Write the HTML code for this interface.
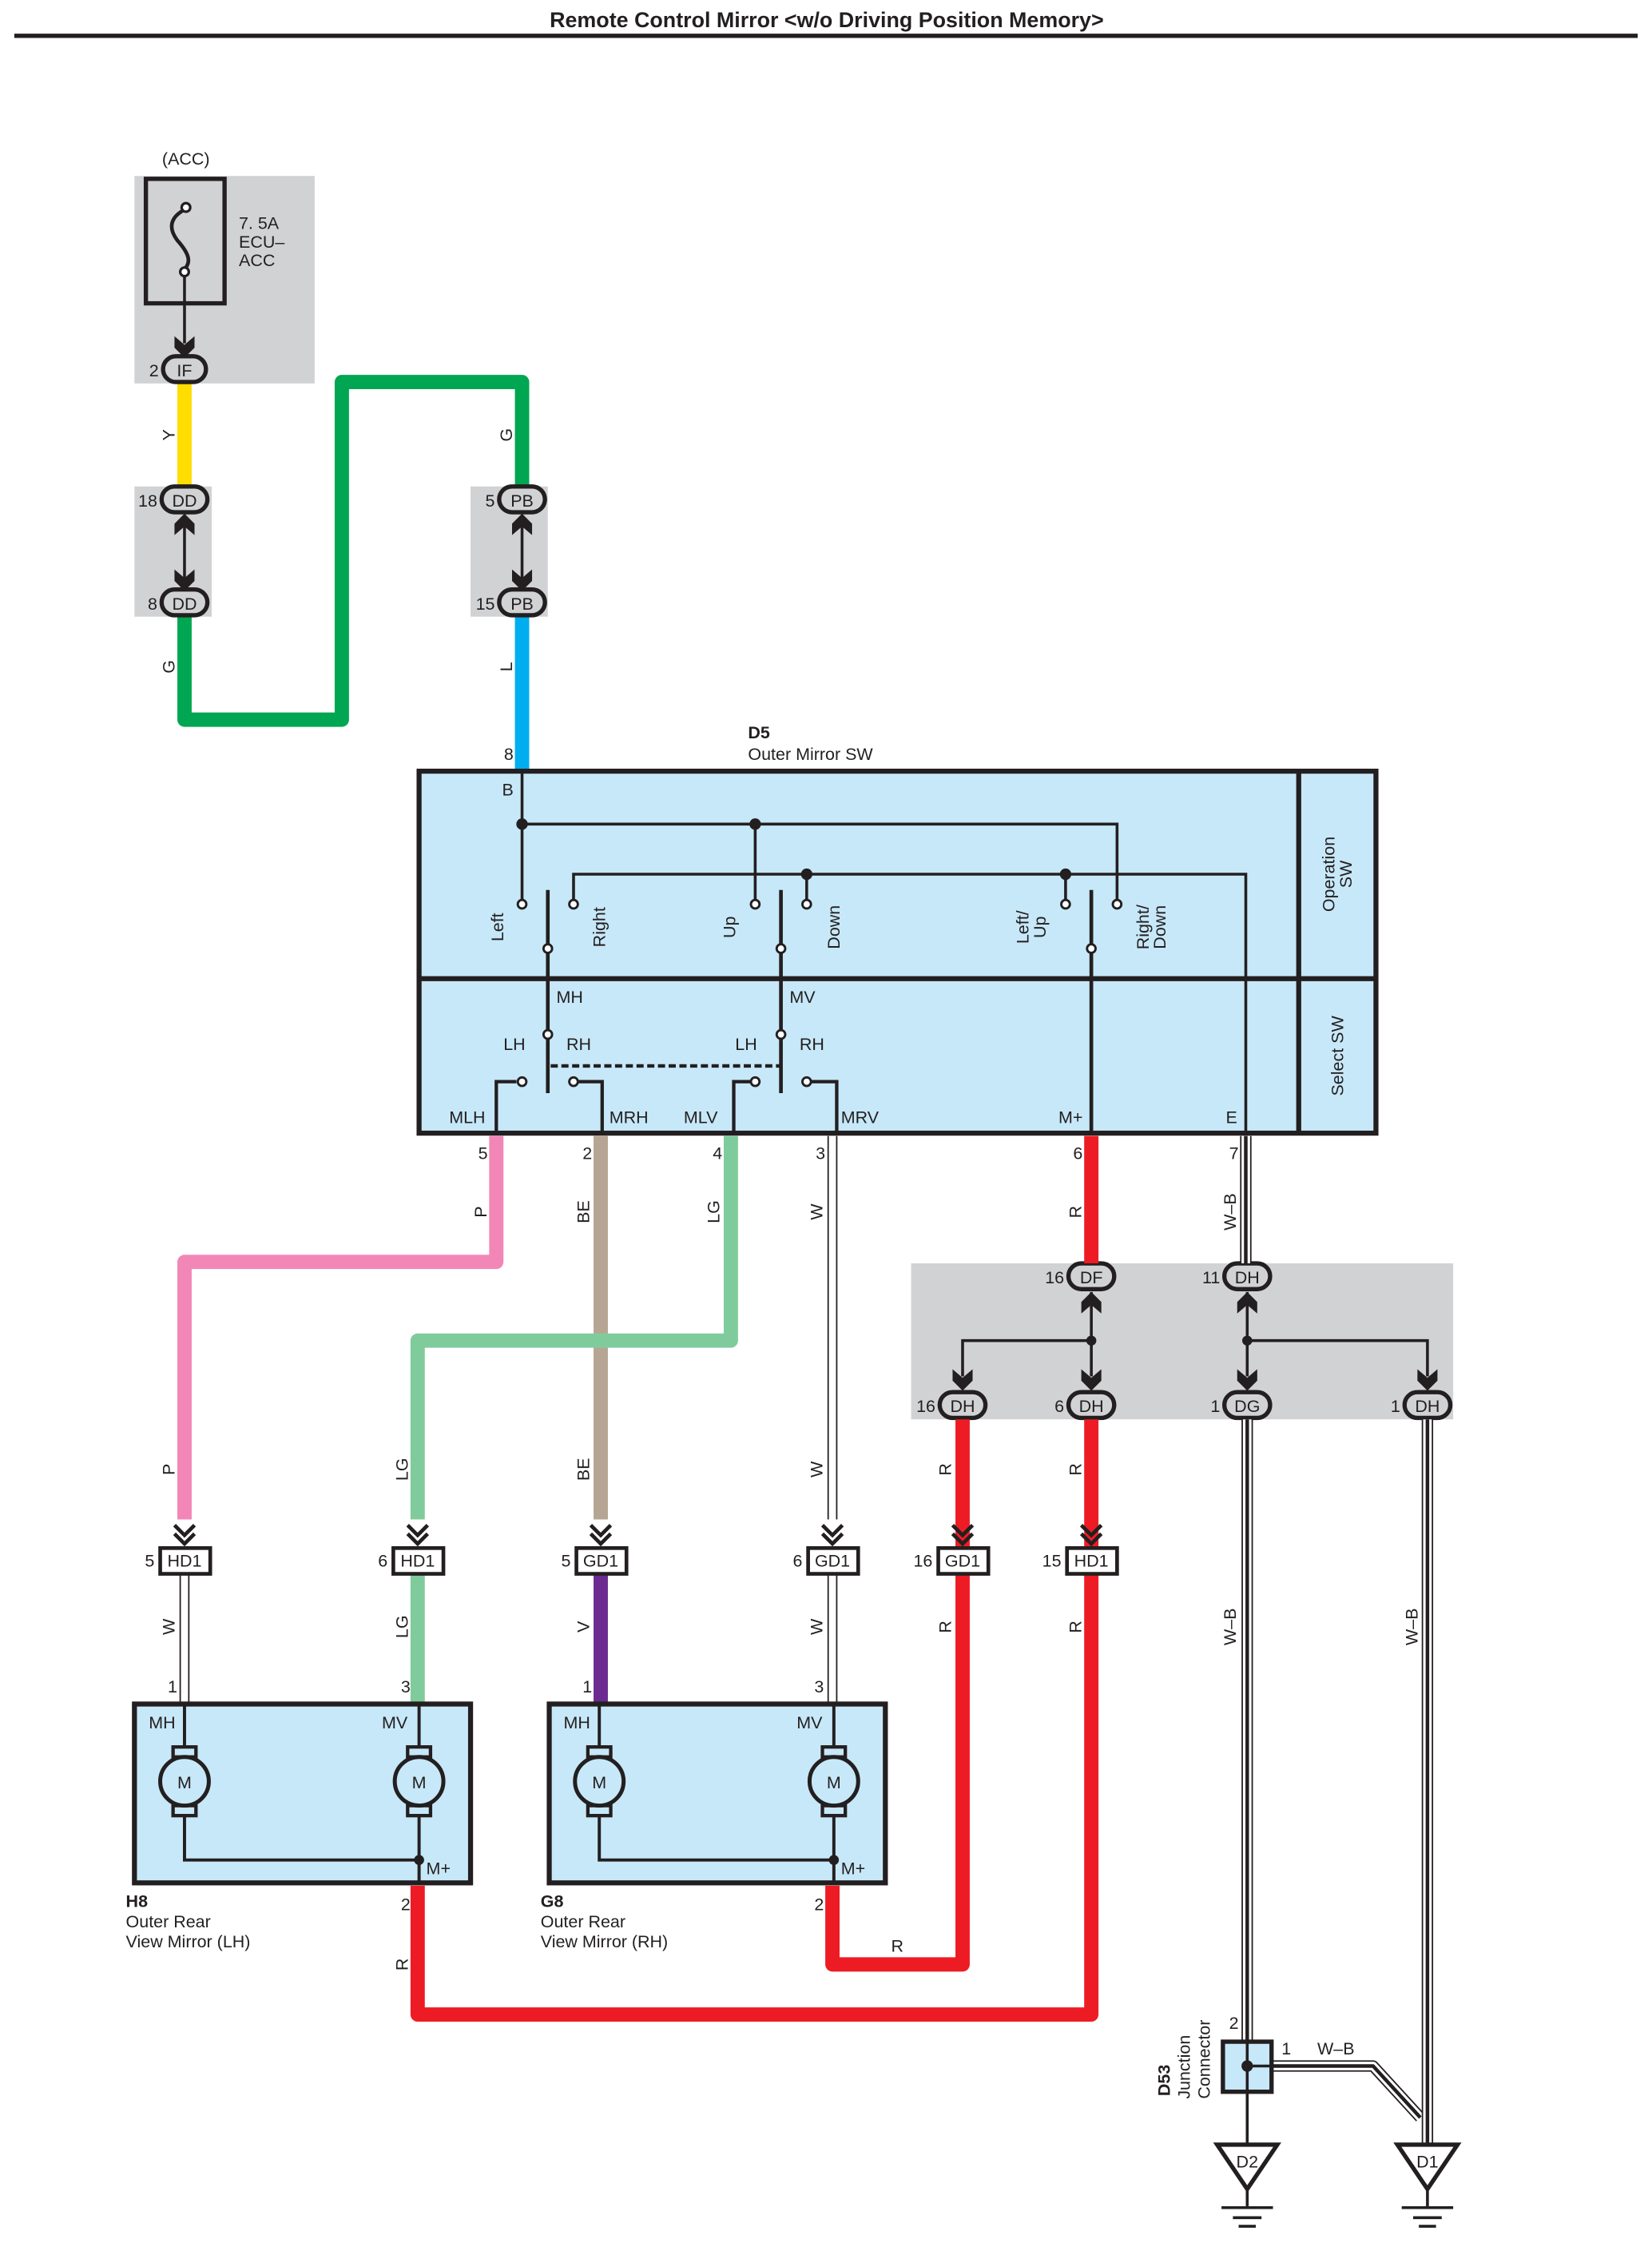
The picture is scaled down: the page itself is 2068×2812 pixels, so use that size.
<!DOCTYPE html>
<html><head><meta charset="utf-8"><style>
html,body{margin:0;padding:0;background:#fff}
svg{display:block}
text{font-family:"Liberation Sans",sans-serif;font-size:12px;fill:#231f20}
</style></head><body>
<svg width="2068" height="2812" viewBox="0 0 1155 1570.5" preserveAspectRatio="none" xmlns="http://www.w3.org/2000/svg">
<defs>
<g id="chev"><polyline points="-7,-13 0,-6 7,-13" fill="none" stroke="#231f20" stroke-width="2.6"/><polyline points="-7,-7 0,0 7,-7" fill="none" stroke="#231f20" stroke-width="2.6"/></g>
<path id="fdn" d="M-7,-14 L0,-8 L7,-14 L7,-6 L0,1 L-7,-6 Z" fill="#231f20"/>
<path id="fup" d="M-7,14 L0,8 L7,14 L7,6 L0,-1 L-7,6 Z" fill="#231f20"/>
</defs>
<text x="578" y="19" text-anchor="middle" style="font-size:15px;font-weight:bold">Remote Control Mirror &lt;w/o Driving Position Memory&gt;</text>
<line x1="10" y1="25" x2="1145" y2="25" stroke="#231f20" stroke-width="3"/>

<!-- gray boxes -->
<rect x="94" y="123" width="126" height="145" fill="#d1d2d4"/>
<rect x="94" y="340" width="54" height="91" fill="#d1d2d4"/>
<rect x="329" y="340" width="54" height="91" fill="#d1d2d4"/>
<rect x="637" y="883" width="379" height="109" fill="#d1d2d4"/>

<!-- fuse -->
<text x="130" y="115" text-anchor="middle">(ACC)</text>
<rect x="102" y="125" width="55" height="87" fill="none" stroke="#231f20" stroke-width="3"/>
<path d="M130,146 C118,152 118,160 124,168 C132,177 134,183 129,188" fill="none" stroke="#231f20" stroke-width="2.6"/>
<circle cx="130" cy="145" r="3" fill="#fff" stroke="#231f20" stroke-width="1.8"/>
<circle cx="129" cy="190" r="3" fill="#fff" stroke="#231f20" stroke-width="1.8"/>
<line x1="129" y1="193" x2="129" y2="240" stroke="#231f20" stroke-width="2"/>
<text x="167" y="160">7. 5A</text><text x="167" y="173">ECU–</text><text x="167" y="186">ACC</text>
<use href="#fdn" x="129" y="249"/>

<!-- colored wires top -->
<line x1="129" y1="268" x2="129" y2="340" stroke="#ffdd00" stroke-width="10"/>
<polyline points="129,431 129,503 239,503 239,267 365,267 365,340" fill="none" stroke="#00a651" stroke-width="10" stroke-linejoin="round"/>
<line x1="365" y1="431" x2="365" y2="539" stroke="#00aeef" stroke-width="10"/>
<text transform="translate(122,304) rotate(-90)" text-anchor="middle">Y</text>
<text transform="translate(122,466) rotate(-90)" text-anchor="middle">G</text>
<text transform="translate(358,304) rotate(-90)" text-anchor="middle">G</text>
<text transform="translate(358,466) rotate(-90)" text-anchor="middle">L</text>
<line x1="129" y1="362" x2="129" y2="410" stroke="#231f20" stroke-width="2"/>
<use href="#fup" x="129" y="360"/><use href="#fdn" x="129" y="412"/>
<line x1="365" y1="362" x2="365" y2="410" stroke="#231f20" stroke-width="2"/>
<use href="#fup" x="365" y="360"/><use href="#fdn" x="365" y="412"/>

<g stroke="#231f20" stroke-width="3" fill="#d1d2d4">
<rect x="114" y="249" width="30" height="18" rx="9"/>
<rect x="113" y="340" width="32" height="18" rx="9"/>
<rect x="113" y="412" width="32" height="18" rx="9"/>
<rect x="349" y="340" width="32" height="18" rx="9"/>
<rect x="349" y="412" width="32" height="18" rx="9"/>
<rect x="747" y="883" width="32" height="18" rx="9"/>
<rect x="856" y="883" width="32" height="18" rx="9"/>
<rect x="657" y="973" width="32" height="18" rx="9"/>
<rect x="747" y="973" width="32" height="18" rx="9"/>
<rect x="856" y="973" width="32" height="18" rx="9"/>
<rect x="982" y="973" width="32" height="18" rx="9"/>
</g>
<g text-anchor="middle">
<text x="129" y="263">IF</text><text x="129" y="354">DD</text><text x="129" y="426">DD</text>
<text x="365" y="354">PB</text><text x="365" y="426">PB</text>
<text x="763" y="897">DF</text><text x="872" y="897">DH</text>
<text x="673" y="987">DH</text><text x="763" y="987">DH</text><text x="872" y="987">DG</text><text x="998" y="987">DH</text>
</g>
<g text-anchor="end">
<text x="111" y="263">2</text><text x="110" y="354">18</text><text x="110" y="426">8</text>
<text x="346" y="354">5</text><text x="346" y="426">15</text>
<text x="744" y="897">16</text><text x="853" y="897">11</text>
<text x="654" y="987">16</text><text x="744" y="987">6</text><text x="853" y="987">1</text><text x="979" y="987">1</text>
<text x="359" y="531">8</text>
</g>

<!-- D5 -->
<text x="523" y="516" style="font-weight:bold">D5</text>
<text x="523" y="531">Outer Mirror SW</text>
<rect x="293" y="539" width="669" height="253" fill="#c7e8f8" stroke="#231f20" stroke-width="3.5"/>
<line x1="293" y1="684" x2="962" y2="684" stroke="#231f20" stroke-width="3.5"/>
<line x1="908" y1="539" x2="908" y2="792" stroke="#231f20" stroke-width="3.5"/>
<text transform="translate(933,611) rotate(-90)" text-anchor="middle">Operation</text>
<text transform="translate(945,611) rotate(-90)" text-anchor="middle">SW</text>
<text transform="translate(939,738) rotate(-90)" text-anchor="middle">Select SW</text>
<g stroke="#231f20" stroke-width="2" fill="none">
<polyline points="365,539 365,629"/>
<polyline points="365,576 781,576 781,629"/>
<line x1="528" y1="576" x2="528" y2="629"/>
<polyline points="401,629 401,611 871,611 871,792"/>
<line x1="564" y1="611" x2="564" y2="629"/>
<line x1="745" y1="611" x2="745" y2="629"/>
<line x1="383" y1="622" x2="383" y2="764" stroke-width="2.6"/>
<line x1="546" y1="622" x2="546" y2="764" stroke-width="2.6"/>
<line x1="763" y1="622" x2="763" y2="792" stroke-width="2.6"/>
<line x1="385" y1="745" x2="546" y2="745" stroke-dasharray="5,2.5" stroke-width="2.4"/>
<polyline points="361,756 347,756 347,792" stroke-width="2.4"/>
<polyline points="404,756 421,756 421,792" stroke-width="2.4"/>
<polyline points="525,756 513,756 513,792" stroke-width="2.4"/>
<polyline points="567,756 585,756 585,792" stroke-width="2.4"/>
</g>
<g fill="#231f20"><circle cx="365" cy="576" r="4"/><circle cx="528" cy="576" r="4"/><circle cx="564" cy="611" r="4"/><circle cx="745" cy="611" r="4"/></g>
<g fill="#fff" stroke="#231f20" stroke-width="1.6">
<circle cx="365" cy="632" r="3"/><circle cx="401" cy="632" r="3"/><circle cx="528" cy="632" r="3"/><circle cx="564" cy="632" r="3"/><circle cx="745" cy="632" r="3"/><circle cx="781" cy="632" r="3"/>
<circle cx="383" cy="663" r="3"/><circle cx="546" cy="663" r="3"/><circle cx="763" cy="663" r="3"/>
<circle cx="383" cy="723" r="3"/><circle cx="546" cy="723" r="3"/>
<circle cx="365" cy="756" r="3"/><circle cx="401" cy="756" r="3"/><circle cx="528" cy="756" r="3"/><circle cx="564" cy="756" r="3"/>
</g>
<text x="351" y="556">B</text>
<text transform="translate(352,648) rotate(-90)" text-anchor="middle">Left</text>
<text transform="translate(423,648) rotate(-90)" text-anchor="middle">Right</text>
<text transform="translate(514,648) rotate(-90)" text-anchor="middle">Up</text>
<text transform="translate(587,648) rotate(-90)" text-anchor="middle">Down</text>
<text transform="translate(719,648) rotate(-90)" text-anchor="middle">Left/</text>
<text transform="translate(731,648) rotate(-90)" text-anchor="middle">Up</text>
<text transform="translate(803,648) rotate(-90)" text-anchor="middle">Right/</text>
<text transform="translate(815,648) rotate(-90)" text-anchor="middle">Down</text>
<text x="389" y="701">MH</text><text x="552" y="701">MV</text>
<text x="352" y="734">LH</text><text x="396" y="734">RH</text>
<text x="514" y="734">LH</text><text x="559" y="734">RH</text>
<text x="314" y="785">MLH</text><text x="426" y="785">MRH</text><text x="478" y="785">MLV</text><text x="588" y="785">MRV</text>
<text x="740" y="785">M+</text><text x="857" y="785">E</text>
<g text-anchor="end"><text x="341" y="810">5</text><text x="414" y="810">2</text><text x="505" y="810">4</text><text x="577" y="810">3</text><text x="757" y="810">6</text><text x="866" y="810">7</text></g>

<g fill="none" stroke-linejoin="round">
<polyline points="347,794 347,882 129,882 129,1062" stroke="#f287b7" stroke-width="10"/>
<line x1="420" y1="794" x2="420" y2="1062" stroke="#b5a592" stroke-width="10"/>
<polyline points="511,794 511,937 292,937 292,1062" stroke="#80cb9c" stroke-width="10"/>
<line x1="582" y1="794" x2="582" y2="1062" stroke="#231f20" stroke-width="7"/>
<line x1="582" y1="794" x2="582" y2="1062" stroke="#fff" stroke-width="5"/>
<line x1="763" y1="794" x2="763" y2="883" stroke="#ed1c24" stroke-width="10"/>
<line x1="673" y1="992" x2="673" y2="1081" stroke="#ed1c24" stroke-width="10"/>
<line x1="763" y1="992" x2="763" y2="1081" stroke="#ed1c24" stroke-width="10"/>
<polyline points="673,1100 673,1373 582,1373 582,1318" stroke="#ed1c24" stroke-width="10"/>
<polyline points="763,1100 763,1408 292,1408 292,1318" stroke="#ed1c24" stroke-width="10"/>
<line x1="292" y1="1100" x2="292" y2="1191" stroke="#80cb9c" stroke-width="10"/>
<line x1="420" y1="1100" x2="420" y2="1191" stroke="#6c2b90" stroke-width="10"/>
<line x1="129" y1="1100" x2="129" y2="1191" stroke="#231f20" stroke-width="7"/>
<line x1="129" y1="1100" x2="129" y2="1191" stroke="#fff" stroke-width="5"/>
<line x1="582" y1="1100" x2="582" y2="1191" stroke="#231f20" stroke-width="7"/>
<line x1="582" y1="1100" x2="582" y2="1191" stroke="#fff" stroke-width="5"/>
<line x1="871" y1="794" x2="871" y2="883" stroke="#231f20" stroke-width="8"/>
<line x1="871" y1="794" x2="871" y2="883" stroke="#fff" stroke-width="6"/>
<line x1="871" y1="794" x2="871" y2="883" stroke="#231f20" stroke-width="2.5"/>
<line x1="872" y1="992" x2="872" y2="1427" stroke="#231f20" stroke-width="8"/>
<line x1="872" y1="992" x2="872" y2="1427" stroke="#fff" stroke-width="6"/>
<line x1="872" y1="992" x2="872" y2="1427" stroke="#231f20" stroke-width="2.5"/>
<polyline points="890,1444 960,1444 993,1480" stroke="#231f20" stroke-width="8"/>
<polyline points="890,1444 960,1444 993,1480" stroke="#fff" stroke-width="6"/>
<polyline points="890,1444 960,1444 993,1480" stroke="#231f20" stroke-width="2.5"/>
<line x1="998" y1="992" x2="998" y2="1500" stroke="#231f20" stroke-width="8"/>
<line x1="998" y1="992" x2="998" y2="1500" stroke="#fff" stroke-width="6"/>
<line x1="998" y1="992" x2="998" y2="1500" stroke="#231f20" stroke-width="2.5"/>
</g>
<g stroke="#231f20" stroke-width="2" fill="none">
<line x1="763" y1="903" x2="763" y2="962"/>
<polyline points="673,962 673,937 763,937"/>
<line x1="872" y1="903" x2="872" y2="962"/>
<polyline points="998,962 998,937 872,937"/>
</g>
<circle cx="763" cy="937" r="3.5" fill="#231f20"/><circle cx="872" cy="937" r="3.5" fill="#231f20"/>
<use href="#fup" x="763" y="904"/><use href="#fup" x="872" y="904"/>
<use href="#fdn" x="673" y="971"/><use href="#fdn" x="763" y="971"/><use href="#fdn" x="872" y="971"/><use href="#fdn" x="998" y="971"/>

<g text-anchor="middle">
<text transform="translate(340,847) rotate(-90)">P</text>
<text transform="translate(412,847) rotate(-90)">BE</text>
<text transform="translate(503,847) rotate(-90)">LG</text>
<text transform="translate(575,847) rotate(-90)">W</text>
<text transform="translate(756,847) rotate(-90)">R</text>
<text transform="translate(864,847) rotate(-90)">W–B</text>
<text transform="translate(122,1027) rotate(-90)">P</text>
<text transform="translate(285,1027) rotate(-90)">LG</text>
<text transform="translate(412,1027) rotate(-90)">BE</text>
<text transform="translate(575,1027) rotate(-90)">W</text>
<text transform="translate(665,1027) rotate(-90)">R</text>
<text transform="translate(756,1027) rotate(-90)">R</text>
<text transform="translate(122,1137) rotate(-90)">W</text>
<text transform="translate(285,1137) rotate(-90)">LG</text>
<text transform="translate(412,1137) rotate(-90)">V</text>
<text transform="translate(575,1137) rotate(-90)">W</text>
<text transform="translate(665,1137) rotate(-90)">R</text>
<text transform="translate(756,1137) rotate(-90)">R</text>
<text transform="translate(864,1137) rotate(-90)">W–B</text>
<text transform="translate(991,1137) rotate(-90)">W–B</text>
<text transform="translate(285,1373) rotate(-90)">R</text>
</g>
<text x="623" y="1364">R</text>

<use href="#chev" x="129" y="1079"/><use href="#chev" x="292" y="1079"/><use href="#chev" x="420" y="1079"/><use href="#chev" x="582" y="1079"/><use href="#chev" x="673" y="1079"/><use href="#chev" x="763" y="1079"/>
<g stroke="#231f20" stroke-width="2.6" fill="#fff">
<rect x="112" y="1082" width="35" height="18"/><rect x="275" y="1082" width="35" height="18"/><rect x="403" y="1082" width="35" height="18"/>
<rect x="565" y="1082" width="35" height="18"/><rect x="656" y="1082" width="35" height="18"/><rect x="746" y="1082" width="35" height="18"/>
</g>
<g text-anchor="middle">
<text x="129" y="1095">HD1</text><text x="292" y="1095">HD1</text><text x="420" y="1095">GD1</text><text x="582" y="1095">GD1</text><text x="673" y="1095">GD1</text><text x="763" y="1095">HD1</text>
</g>
<g text-anchor="end">
<text x="108" y="1095">5</text><text x="271" y="1095">6</text><text x="399" y="1095">5</text><text x="561" y="1095">6</text><text x="652" y="1095">16</text><text x="742" y="1095">15</text>
<text x="124" y="1183">1</text><text x="287" y="1183">3</text><text x="414" y="1183">1</text><text x="576" y="1183">3</text>
<text x="287" y="1335">2</text><text x="576" y="1335">2</text>
</g>

<g id="mbox">
<rect x="94" y="1191" width="235" height="125" fill="#c7e8f8" stroke="#231f20" stroke-width="3.5"/>
<g stroke="#231f20" stroke-width="2.2" fill="none">
<line x1="129" y1="1191" x2="129" y2="1221"/><line x1="293" y1="1191" x2="293" y2="1221"/>
<polyline points="129,1268 129,1300 293,1300"/><line x1="293" y1="1268" x2="293" y2="1316"/>
<rect x="121" y="1221" width="16" height="7" stroke-width="2.4"/><rect x="121" y="1262" width="16" height="7" stroke-width="2.4"/>
<rect x="285" y="1221" width="16" height="7" stroke-width="2.4"/><rect x="285" y="1262" width="16" height="7" stroke-width="2.4"/>
<circle cx="129" cy="1245" r="17" fill="#c7e8f8" stroke-width="2.8"/><circle cx="293" cy="1245" r="17" fill="#c7e8f8" stroke-width="2.8"/>
</g>
<circle cx="293" cy="1300" r="3.5" fill="#231f20"/>
<text x="129" y="1250" text-anchor="middle">M</text><text x="293" y="1250" text-anchor="middle">M</text>
<text x="104" y="1208">MH</text><text x="267" y="1208">MV</text><text x="298" y="1310">M+</text>
</g>
<use href="#mbox" x="290" y="0"/>
<text x="88" y="1333" style="font-weight:bold">H8</text><text x="88" y="1347">Outer Rear</text><text x="88" y="1361">View Mirror (LH)</text>
<text x="378" y="1333" style="font-weight:bold">G8</text><text x="378" y="1347">Outer Rear</text><text x="378" y="1361">View Mirror (RH)</text>

<rect x="855" y="1427" width="34" height="35" fill="#c7e8f8" stroke="#231f20" stroke-width="3"/>
<line x1="872" y1="1427" x2="872" y2="1500" stroke="#231f20" stroke-width="2"/>
<line x1="872" y1="1444" x2="889" y2="1444" stroke="#231f20" stroke-width="2"/>
<circle cx="872" cy="1444" r="4" fill="#231f20"/>
<text x="866" y="1418" text-anchor="end">2</text><text x="896" y="1436">1</text><text x="921" y="1436">W–B</text>
<text transform="translate(818,1465) rotate(-90)" style="font-weight:bold">D53</text>
<text transform="translate(832,1467) rotate(-90)">Junction</text>
<text transform="translate(846,1467) rotate(-90)">Connector</text>
<g id="gnd" stroke="#231f20" fill="#fff">
<path d="M851,1499 L893,1499 L872,1530 Z" stroke-width="3"/>
<line x1="872" y1="1530" x2="872" y2="1542" stroke-width="2"/>
<line x1="854" y1="1543" x2="890" y2="1543" stroke-width="2"/>
<line x1="862" y1="1550" x2="882" y2="1550" stroke-width="2"/>
<line x1="866" y1="1556" x2="878" y2="1556" stroke-width="2"/>
</g>
<use href="#gnd" x="126" y="0"/>
<text x="872" y="1515" text-anchor="middle">D2</text><text x="998" y="1515" text-anchor="middle">D1</text>
</svg>
</body></html>
